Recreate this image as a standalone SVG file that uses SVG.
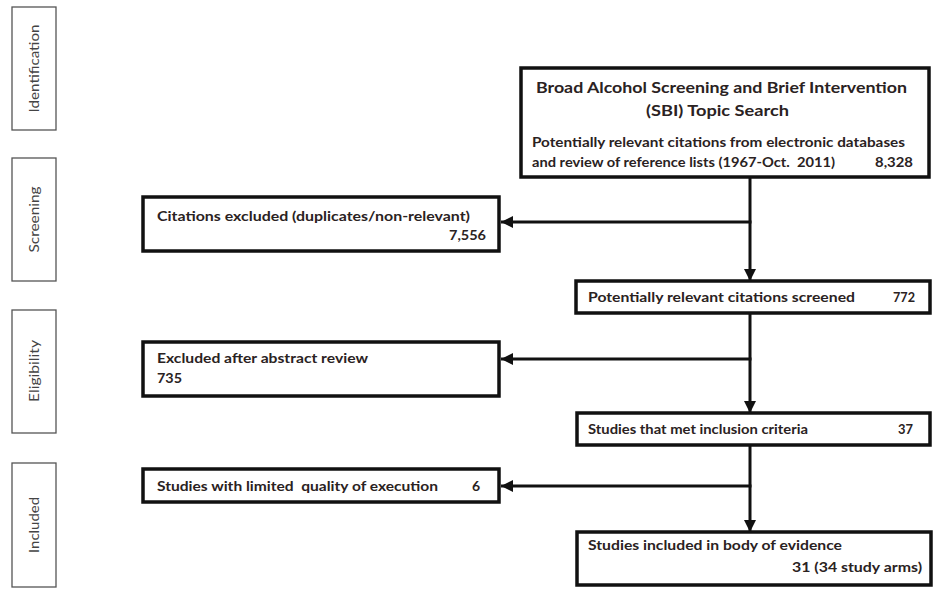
<svg xmlns="http://www.w3.org/2000/svg" width="933" height="591" viewBox="0 0 933 591">
<style>
.stage rect{fill:#fff;stroke:#555;stroke-width:1.3}
.stage text{font-family:Lato,"Open Sans","Liberation Sans",sans-serif;font-size:14px;fill:#444}
.node rect{fill:#fff;stroke:#111;stroke-width:3.5}
.node text{font-family:Lato,"Open Sans","Liberation Sans",sans-serif;font-weight:bold;font-size:14px;fill:#2a2222;white-space:pre}
.node text.title{font-size:16px}
.conn line{stroke:#111;stroke-width:3;fill:none}
</style>
<defs>
<marker id="arr" viewBox="0 0 10 10" refX="10" refY="5" markerWidth="4" markerHeight="4" orient="auto" markerUnits="strokeWidth">
<path d="M0,0 L10,5 L0,10 z" fill="#111"/>
</marker>
</defs>
<rect width="933" height="591" fill="#fff"/>

<g id="stage-identification" class="stage">
<rect x="12" y="7" width="44" height="123"/>
<text transform="translate(39,68.5) rotate(-90)" text-anchor="middle" textLength="88" lengthAdjust="spacingAndGlyphs">Identification</text>
</g>
<g id="stage-screening" class="stage">
<rect x="12" y="158" width="44" height="123"/>
<text transform="translate(39,219.5) rotate(-90)" text-anchor="middle" textLength="66" lengthAdjust="spacingAndGlyphs">Screening</text>
</g>
<g id="stage-eligibility" class="stage">
<rect x="12" y="310" width="44" height="123"/>
<text transform="translate(39,371) rotate(-90)" text-anchor="middle" textLength="62" lengthAdjust="spacingAndGlyphs">Eligibility</text>
</g>
<g id="stage-included" class="stage">
<rect x="12" y="463" width="44" height="124"/>
<text transform="translate(39,525) rotate(-90)" text-anchor="middle" textLength="56" lengthAdjust="spacingAndGlyphs">Included</text>
</g>

<g id="conn" class="conn">
<line x1="750" y1="177" x2="750" y2="281" marker-end="url(#arr)"/>
<line x1="751.5" y1="222" x2="501" y2="222" marker-end="url(#arr)"/>
<line x1="750" y1="313" x2="750" y2="413" marker-end="url(#arr)"/>
<line x1="751.5" y1="359" x2="501" y2="359" marker-end="url(#arr)"/>
<line x1="750" y1="445" x2="750" y2="532" marker-end="url(#arr)"/>
<line x1="751.5" y1="486" x2="501" y2="486" marker-end="url(#arr)"/>
</g>

<g id="node-search" class="node">
<rect x="521" y="68" width="408" height="109"/>
<text class="title" x="721.5" y="92.5" text-anchor="middle" textLength="371" lengthAdjust="spacingAndGlyphs">Broad Alcohol Screening and Brief Intervention</text>
<text class="title" x="717.5" y="115.5" text-anchor="middle" textLength="143" lengthAdjust="spacingAndGlyphs">(SBI) Topic Search</text>
<text x="532" y="147" textLength="373" lengthAdjust="spacingAndGlyphs">Potentially relevant citations from electronic databases</text>
<text x="532" y="167" textLength="303" lengthAdjust="spacingAndGlyphs" xml:space="preserve">and review of reference lists (1967-Oct.  2011)</text>
<text x="913" y="167" text-anchor="end" textLength="38" lengthAdjust="spacingAndGlyphs">8,328</text>
</g>

<g id="node-excluded-duplicates" class="node">
<rect x="143" y="197" width="356" height="54"/>
<text x="157" y="221" textLength="313" lengthAdjust="spacingAndGlyphs">Citations excluded (duplicates/non-relevant)</text>
<text x="486" y="240" text-anchor="end" textLength="37" lengthAdjust="spacingAndGlyphs">7,556</text>
</g>

<g id="node-screened" class="node">
<rect x="576" y="281" width="354" height="32"/>
<text x="588" y="302" textLength="267" lengthAdjust="spacingAndGlyphs">Potentially relevant citations screened</text>
<text x="915" y="302" text-anchor="end" textLength="22" lengthAdjust="spacingAndGlyphs">772</text>
</g>

<g id="node-excluded-abstract" class="node">
<rect x="143" y="342" width="356" height="54"/>
<text x="157" y="363" textLength="211" lengthAdjust="spacingAndGlyphs">Excluded after abstract review</text>
<text x="157" y="383" textLength="25" lengthAdjust="spacingAndGlyphs">735</text>
</g>

<g id="node-inclusion" class="node">
<rect x="577" y="413" width="353" height="32"/>
<text x="588" y="434" textLength="220" lengthAdjust="spacingAndGlyphs">Studies that met inclusion criteria</text>
<text x="913" y="434" text-anchor="end" textLength="15" lengthAdjust="spacingAndGlyphs">37</text>
</g>

<g id="node-limited" class="node">
<rect x="143" y="469" width="356" height="33"/>
<text x="157" y="491" textLength="281" lengthAdjust="spacingAndGlyphs" xml:space="preserve">Studies with limited  quality of execution</text>
<text x="480" y="491" text-anchor="end">6</text>
</g>

<g id="node-included" class="node">
<rect x="577" y="532" width="354" height="53"/>
<text x="588" y="549.5" textLength="254" lengthAdjust="spacingAndGlyphs">Studies included in body of evidence</text>
<text x="922" y="572" text-anchor="end" textLength="130" lengthAdjust="spacingAndGlyphs">31 (34 study arms)</text>
</g>
</svg>
